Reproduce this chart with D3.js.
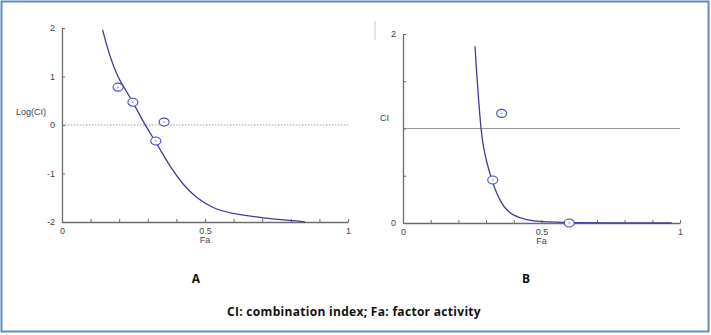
<!DOCTYPE html>
<html>
<head>
<meta charset="utf-8">
<script src="https://cdn.jsdelivr.net/npm/d3@7"></script>
<style>
  body { margin: 0; background: #fff; }
  svg { display: block; }
</style>
</head>
<body>
<div id="chart"></div>
<script>
// Panel A: log(CI) vs Fa, fitted curve
const aCurveFa    = [0.142, 0.165, 0.195, 0.225, 0.249, 0.287, 0.331, 0.378, 0.424, 0.471, 0.529, 0.587, 0.704, 0.821, 0.85];
const aCurveLogCI = [1.96, 1.45, 0.98, 0.70, 0.46, 0.03, -0.38, -0.86, -1.24, -1.51, -1.72, -1.82, -1.92, -1.98, -2.0];
const aPointFa    = [0.196, 0.248, 0.357, 0.328];
const aPointLogCI = [0.78, 0.47, 0.06, -0.33];

// Panel B: CI vs Fa
const bCurveFa = [0.26, 0.265, 0.272, 0.281, 0.29, 0.305, 0.32, 0.338, 0.362, 0.398, 0.447, 0.495, 0.6, 0.8, 0.97];
const bCurveCI = [1.87, 1.62, 1.34, 1.0, 0.80, 0.61, 0.46, 0.31, 0.17, 0.074, 0.032, 0.014, 0.004, 0.0, 0.0];
const bPointFa = [0.356, 0.324, 0.6];
const bPointCI = [1.16, 0.455, 0.0];

const faTicks = [0, 0.1, 0.2, 0.3, 0.4, 0.5, 0.6, 0.7, 0.8, 0.9, 1];
const faTickLabels = [0, 0.5, 1];
const aYTicks = [-2, -1, 0, 1, 2];
const bYTicks = [0, 0.5, 1, 1.5, 2];
const bYTickLabels = [0, 2];

const width = 711, height = 335;
const colors = {
    axis: '#6b6b6b',
    text: '#444',
    curve: '#3c3c9c',
    point: '#4848d0',
    ref: '#9a9a9a',
    frame: '#5a8ccc'
};

const svg = d3.select('#chart').append('svg')
    .attr('width', width)
    .attr('height', height);

// frame round the figure
svg.append('rect')
    .attr('x', 1.5).attr('y', 1.5)
    .attr('width', width - 4).attr('height', height - 5)
    .attr('fill', 'none')
    .attr('stroke', colors.frame)
    .attr('stroke-width', 2);

function drawPanel(opt) {
    const x = d3.scaleLinear().domain([0, 1]).range(opt.xRange);
    const y = d3.scaleLinear().domain(opt.yDomain).range(opt.yRange);
    const g = svg.append('g');

    // reference line (CI = 1)
    g.append('line')
        .attr('x1', x(0)).attr('x2', x(1))
        .attr('y1', y(opt.refValue)).attr('y2', y(opt.refValue))
        .attr('stroke', colors.ref)
        .attr('stroke-width', 1)
        .attr('stroke-dasharray', opt.refDash);

    // x axis, ticks pointing inward
    const xAxis = g.append('g')
        .attr('transform', `translate(0,${y(opt.yDomain[0])})`)
        .call(d3.axisBottom(x)
            .tickValues(faTicks)
            .tickSizeInner(-3)
            .tickSizeOuter(0)
            .tickPadding(6)
            .tickFormat(d => faTickLabels.includes(d) ? String(d) : ''));

    // y axis
    const yAxis = g.append('g')
        .attr('transform', `translate(${x(0)},0)`)
        .call(d3.axisLeft(y)
            .tickValues(opt.yTicks)
            .tickSizeInner(-3)
            .tickSizeOuter(0)
            .tickPadding(7)
            .tickFormat(opt.yFormat));

    [xAxis, yAxis].forEach(a => {
        a.select('.domain').attr('stroke', colors.axis).attr('stroke-width', 1.3);
        a.selectAll('.tick line').attr('stroke', colors.axis);
        a.selectAll('.tick text')
            .attr('fill', colors.text)
            .style('font-family', 'Liberation Sans, Arial, sans-serif')
            .style('font-size', '9px');
    });

    // x title
    g.append('text')
        .attr('x', x(0.5)).attr('y', y(opt.yDomain[0]) + 21)
        .attr('text-anchor', 'middle')
        .attr('fill', colors.text)
        .style('font-family', 'Liberation Sans, Arial, sans-serif')
        .style('font-size', '9px')
        .text('Fa');

    // y title
    g.append('text')
        .attr('x', opt.yTitleX).attr('y', opt.yTitleY)
        .attr('text-anchor', 'start')
        .attr('fill', colors.text)
        .style('font-family', 'Liberation Sans, Arial, sans-serif')
        .style('font-size', '9px')
        .text(opt.yTitle);

    // fitted curve
    const line = d3.line()
        .x(d => x(d[0]))
        .y(d => y(d[1]))
        .curve(d3.curveBasis);

    g.append('path')
        .datum(d3.zip(opt.curveX, opt.curveY))
        .attr('d', line)
        .attr('fill', 'none')
        .attr('stroke', colors.curve)
        .attr('stroke-width', 1.3);

    // data points
    const pts = g.selectAll('.pt')
        .data(d3.zip(opt.pointX, opt.pointY))
        .join('g')
        .attr('transform', d => `translate(${x(d[0])},${y(d[1])})`);

    pts.append('ellipse')
        .attr('rx', 5).attr('ry', 4)
        .attr('fill', 'white')
        .attr('stroke', colors.point)
        .attr('stroke-width', 1.1);

    pts.append('line')
        .attr('x1', -1).attr('x2', 1)
        .attr('stroke', '#8888dd')
        .attr('stroke-width', 1);

    // panel letter
    svg.append('text')
        .attr('x', opt.letterX).attr('y', 283)
        .attr('text-anchor', 'middle')
        .attr('fill', '#111')
        .style('font-family', 'Open Sans, sans-serif')
        .style('font-weight', 'bold')
        .style('font-size', '12px')
        .text(opt.letter);
}

drawPanel({
    xRange: [62, 348],
    yDomain: [-2, 2],
    yRange: [222, 28],
    yTicks: aYTicks,
    yFormat: d => String(d),
    refValue: 0,
    refDash: '1.5,1.5',
    yTitle: 'Log(CI)',
    yTitleX: 16, yTitleY: 115,
    curveX: aCurveFa, curveY: aCurveLogCI,
    pointX: aPointFa, pointY: aPointLogCI,
    letter: 'A', letterX: 196
});

drawPanel({
    xRange: [403, 680],
    yDomain: [0, 2],
    yRange: [223, 34],
    yTicks: bYTicks,
    yFormat: d => bYTickLabels.includes(d) ? String(d) : '',
    refValue: 1,
    refDash: null,
    yTitle: 'CI',
    yTitleX: 380, yTitleY: 121,
    curveX: bCurveFa, curveY: bCurveCI,
    pointX: bPointFa, pointY: bPointCI,
    letter: 'B', letterX: 526
});

// small stray mark in the source near panel B
svg.append('line')
    .attr('x1', 375).attr('x2', 375)
    .attr('y1', 21).attr('y2', 40)
    .attr('stroke', '#c8c8c8');

// caption
svg.append('text')
    .attr('x', 354).attr('y', 316)
    .attr('text-anchor', 'middle')
    .attr('fill', '#111')
    .style('font-family', 'Open Sans, sans-serif')
    .style('font-weight', 'bold')
    .style('font-size', '12px')
    .style('letter-spacing', '0.3px')
    .text('CI: combination index; Fa: factor activity');
</script>
</body>
</html>
